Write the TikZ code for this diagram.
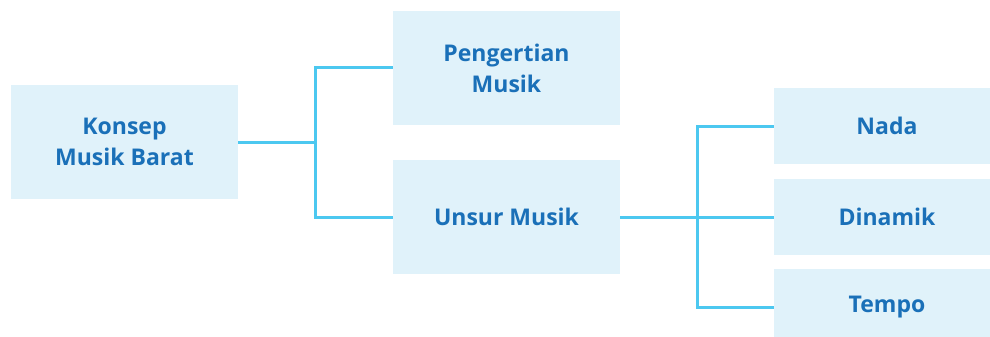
\documentclass[tikz,border=0pt]{standalone}
\usepackage{fontspec}
\setmainfont{Open Sans}
\definecolor{boxfill}{HTML}{E0F2FA}
\definecolor{txt}{HTML}{1A70B8}
\definecolor{ln}{HTML}{4CC8F0}
\begin{document}
\begin{tikzpicture}[x=1pt,y=-1pt,
  box/.style={fill=boxfill,draw=none,inner sep=0pt,font=\fontsize{23}{31}\selectfont\bfseries,text=txt,align=center},
  conn/.style={draw=ln,line width=3pt}]
\useasboundingbox (0,0) rectangle (990,337);
\node[box,minimum width=227,minimum height=114] (k) at (124.5,142) {Konsep\\Musik Barat};
\node[box,minimum width=227,minimum height=114] (p) at (506.5,68) {Pengertian\\Musik};
\node[box,minimum width=227,minimum height=114] (u) at (506.5,217) {Unsur Musik};
\node[box,minimum width=226,minimum height=76] (n) at (887,126) {Nada};
\node[box,minimum width=226,minimum height=76] (d) at (887,217) {Dinamik};
\node[box,minimum width=226,minimum height=76] (t) at (887,307) {Tempo};
\coordinate (j1) at (315,142);
\coordinate (j2) at (697,217);
\draw[conn] (k.east) -- (j1);
\draw[conn] (p.west) -| (j1) |- (u.west);
\draw[conn] (u.east) -- (d.west);
\draw[conn] (n.west) -| (j2) |- (t.west);
\end{tikzpicture}
\end{document}
